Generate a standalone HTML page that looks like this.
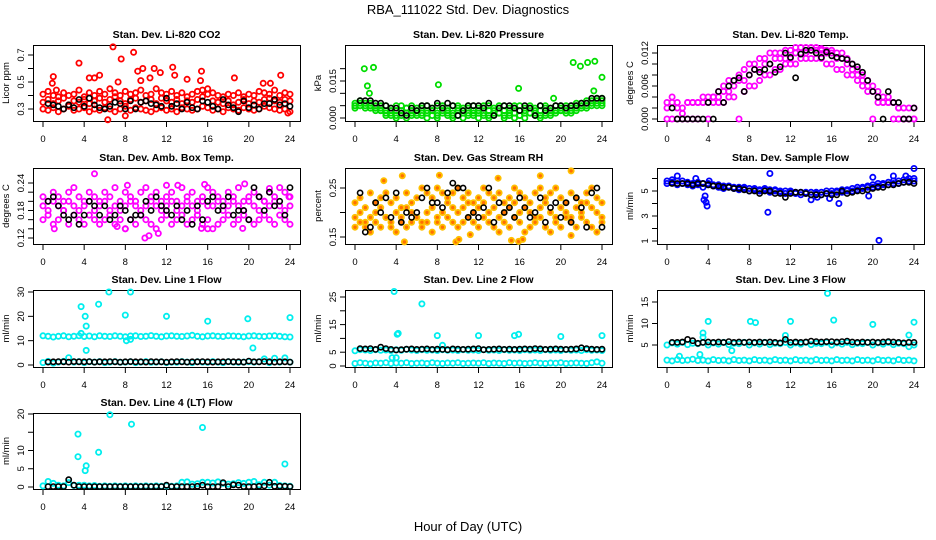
<!DOCTYPE html>
<html><head><meta charset="utf-8">
<style>
html,body{margin:0;padding:0;background:#fff;}
svg{display:block;font-family:"Liberation Sans",sans-serif;}
</style></head>
<body>
<svg id="chart" width="936" height="540" viewBox="0 0 936 540" xmlns="http://www.w3.org/2000/svg">
<rect x="0" y="0" width="936" height="540" fill="#fff"/>
<text x="468" y="14" text-anchor="middle" font-size="13">RBA_111022  Std. Dev. Diagnostics</text>
<text x="468" y="531" text-anchor="middle" font-size="13">Hour of Day (UTC)</text>
</svg>
<script>
const H49=[0,0.5,1,1.5,2,2.5,3,3.5,4,4.5,5,5.5,6,6.5,7,7.5,8,8.5,9,9.5,10,10.5,11,11.5,12,12.5,13,13.5,14,14.5,15,15.5,16,16.5,17,17.5,18,18.5,19,19.5,20,20.5,21,21.5,22,22.5,23,23.5,24];
const H48=[0.5,1,1.5,2,2.5,3,3.5,4,4.5,5,5.5,6,6.5,7,7.5,8,8.5,9,9.5,10,10.5,11,11.5,12,12.5,13,13.5,14,14.5,15,15.5,16,16.5,17,17.5,18,18.5,19,19.5,20,20.5,21,21.5,22,22.5,23,23.5,24];
const xTicks=[0,4,8,12,16,20,24];

// CO2
const co2A=[0.30,0.29,0.31,0.28,0.30,0.32,0.29,0.30,0.31,0.28,0.30,0.29,0.31,0.30,0.28,0.30,0.32,0.29,0.31,0.30,0.29,0.28,0.30,0.31,0.29,0.30,0.28,0.31,0.30,0.29,0.30,0.32,0.31,0.29,0.30,0.28,0.31,0.30,0.29,0.31,0.30,0.29,0.30,0.32,0.31,0.30,0.29,0.30,0.28];
const co2B=[0.35,0.37,0.34,0.36,0.38,0.33,0.36,0.35,0.37,0.34,0.36,0.38,0.35,0.37,0.39,0.36,0.34,0.37,0.38,0.35,0.36,0.37,0.34,0.38,0.36,0.35,0.37,0.34,0.36,0.35,0.37,0.39,0.41,0.36,0.35,0.34,0.36,0.33,0.35,0.37,0.34,0.36,0.35,0.37,0.38,0.36,0.35,0.37,0.36];
const co2C=[0.41,0.43,0.40,0.39,0.42,0.40,0.41,0.44,0.39,0.42,0.40,0.43,0.41,0.45,0.42,0.40,0.43,0.41,0.42,0.44,0.40,0.41,0.45,0.42,0.41,0.43,0.40,0.42,0.39,0.41,0.43,0.44,0.45,0.42,0.40,0.39,0.41,0.40,0.42,0.39,0.41,0.40,0.43,0.42,0.41,0.44,0.40,0.42,0.41];
const co2OutH=[1,0.9,1.3,3.5,4.5,5,5.5,6.3,6.8,7.3,7.6,8,8.8,9.2,9.7,10.8,11.4,12.6,12.8,14.0,15.4,15.3,18.6,21.4,22.1,23.1,23.8,9.5,10.4];
const co2OutV=[0.54,0.49,0.44,0.64,0.53,0.53,0.55,0.22,0.76,0.50,0.67,0.25,0.72,0.58,0.60,0.60,0.57,0.61,0.55,0.52,0.58,0.51,0.53,0.49,0.49,0.55,0.27,0.51,0.53];
const co2Blk=[0.34,0.33,0.32,0.30,0.33,0.31,0.37,0.32,0.38,0.33,0.31,0.30,0.32,0.35,0.34,0.30,0.36,0.30,0.35,0.36,0.34,0.33,0.32,0.38,0.32,0.34,0.30,0.35,0.31,0.30,0.36,0.35,0.32,0.30,0.37,0.33,0.31,0.28,0.36,0.31,0.33,0.30,0.34,0.34,0.37,0.33,0.34,0.32];

// Pressure
const pA=[0.005,0.006,0.006,0.005,0.004,0.003,0.002,0.001,0.000,0.001,0.000,0.001,0.002,0.001,0.000,0.001,0.000,0.002,0.001,0.000,0.001,0.000,0.001,0.002,0.000,0.001,0.000,0.001,0.002,0.000,0.001,0.000,0.001,0.000,0.002,0.001,0.000,0.001,0.002,0.003,0.003,0.002,0.002,0.003,0.004,0.004,0.005,0.005,0.005];
const pB=[0.006,0.007,0.006,0.006,0.005,0.005,0.005,0.004,0.005,0.005,0.004,0.005,0.004,0.005,0.005,0.004,0.005,0.005,0.004,0.005,0.005,0.004,0.005,0.005,0.004,0.005,0.005,0.004,0.005,0.005,0.004,0.005,0.005,0.004,0.005,0.004,0.005,0.005,0.004,0.005,0.005,0.005,0.005,0.006,0.006,0.007,0.007,0.008,0.008];
const pC=[0.004,0.005,0.004,0.004,0.003,0.003,0.003,0.002,0.003,0.003,0.002,0.003,0.003,0.002,0.003,0.003,0.002,0.003,0.003,0.002,0.003,0.003,0.002,0.003,0.003,0.002,0.003,0.003,0.002,0.003,0.003,0.002,0.003,0.003,0.002,0.003,0.003,0.002,0.003,0.003,0.003,0.003,0.004,0.004,0.005,0.005,0.006,0.006,0.006];
const pD=[0.005,0.005,0.005,0.005,0.004,0.004,0.001,0.003,0.001,0.002,0.004,0.002,0.001,0.004,0.002,0.003,0.001,0.004,0.002,0.001,0.004,0.002,0.004,0.001,0.002,0.004,0.001,0.002,0.004,0.001,0.002,0.004,0.001,0.002,0.004,0.002,0.001,0.004,0.001,0.002,0.004,0.004,0.003,0.005,0.005,0.006,0.006,0.007,0.007];
const pOutH=[0.9,1.8,1.2,1.4,8.1,15.9,19.3,21.2,21.9,22.6,23.3,24,23.2];
const pOutV=[0.020,0.0205,0.013,0.010,0.0135,0.012,0.008,0.0225,0.021,0.0225,0.023,0.0165,0.011];
const pBlk=[0.007,0.007,0.007,0.006,0.006,0.005,0.004,0.004,0.002,0.001,0.004,0.003,0.005,0.005,0.004,0.006,0.004,0.006,0.005,0.001,0.003,0.005,0.005,0.005,0.004,0.006,0.001,0.004,0.005,0.005,0.004,0.003,0.005,0.004,0.001,0.005,0.003,0.004,0.005,0.005,0.004,0.005,0.005,0.006,0.006,0.008,0.008,0.008];

// Li-820 Temp
const tA=[0.002,0.003,0.002,0.002,0.003,0.003,0.003,0.003,0.003,0.004,0.004,0.005,0.005,0.006,0.007,0.007,0.008,0.009,0.009,0.010,0.010,0.011,0.011,0.011,0.011,0.012,0.012,0.012,0.0125,0.0125,0.0125,0.012,0.012,0.011,0.011,0.010,0.009,0.008,0.007,0.006,0.005,0.004,0.003,0.003,0.003,0.002,0.002,0.002,0.002];
const tB=[0,0,0,0,0.003,0.003,0.003,0.003,0,0.003,0.003,0.003,0.004,0.004,0,0.005,0.006,0.006,0.007,0.008,0.008,0.009,0.009,0.010,0.010,0.010,0.011,0.011,0.011,0.011,0.011,0.010,0.010,0.009,0.009,0.008,0.008,0.007,0.006,0.005,0,0.003,0.003,0.003,0,0,0,0,0];
const tC=[0.003,0.004,0.003,0.001,0,0,0,0.004,0.004,0.004,0.005,0.006,0.007,0.007,0.008,0.009,0.010,0.010,0.011,0.011,0.012,0.012,0.012,0.0125,0.0125,0.013,0.013,0.013,0.013,0.013,0.0128,0.0125,0.0125,0.012,0.012,0.011,0.010,0.009,0.008,0.007,0.006,0.005,0.004,0.004,0.003,0.002,0,0,0];
const tBlk=[0.002,0,0,0,0,0,0,0.003,0,0.005,0.003,0.006,0.007,0.0075,0.005,0.008,0.009,0.0085,0.009,0.010,0.0085,0.0095,0.012,0.0112,0.0075,0.0118,0.0125,0.0125,0.012,0.0112,0.0122,0.0115,0.0112,0.011,0.0108,0.01,0.0095,0.0085,0.007,0.005,0.004,0,0.005,0.003,0.003,0,0,0.002];

// Amb box temp
const aA=[0.16,0.17,0.15,0.16,0.18,0.15,0.17,0.16,0.15,0.17,0.16,0.15,0.16,0.17,0.15,0.16,0.14,0.16,0.15,0.17,0.16,0.15,0.14,0.16,0.17,0.15,0.16,0.17,0.15,0.16,0.17,0.15,0.16,0.14,0.15,0.16,0.17,0.15,0.16,0.17,0.16,0.15,0.16,0.17,0.16,0.15,0.17,0.16,0.15];
const aB=[0.19,0.18,0.20,0.19,0.18,0.20,0.19,0.18,0.19,0.20,0.18,0.19,0.20,0.18,0.19,0.18,0.19,0.20,0.19,0.18,0.19,0.20,0.19,0.18,0.19,0.20,0.18,0.19,0.20,0.19,0.18,0.20,0.19,0.19,0.20,0.18,0.19,0.20,0.19,0.18,0.20,0.19,0.18,0.20,0.19,0.20,0.19,0.18,0.19];
const aC=[0.21,0.20,0.22,0.21,0.20,0.22,0.23,0.21,0.20,0.22,0.21,0.20,0.22,0.21,0.23,0.20,0.22,0.21,0.20,0.22,0.23,0.21,0.22,0.20,0.21,0.22,0.20,0.23,0.21,0.22,0.20,0.21,0.23,0.22,0.21,0.20,0.22,0.21,0.23,0.20,0.21,0.22,0.21,0.20,0.22,0.21,0.23,0.22,0.21];
const aOutH=[5,8.2,9.9,10.3,8.0,7.2,12.0,13.1,15.7,19.6,22.0,16.0,15.4,19.4,1.1,11.2,23.9];
const aOutV=[0.26,0.235,0.12,0.125,0.14,0.145,0.235,0.235,0.237,0.238,0.228,0.14,0.141,0.141,0.14,0.13,0.21];
const aBlk=[0.20,0.21,0.19,0.17,0.16,0.17,0.15,0.17,0.20,0.19,0.17,0.19,0.16,0.17,0.19,0.18,0.16,0.17,0.17,0.20,0.18,0.21,0.19,0.18,0.17,0.19,0.16,0.18,0.15,0.19,0.16,0.20,0.21,0.18,0.19,0.21,0.17,0.18,0.18,0.16,0.23,0.21,0.18,0.22,0.19,0.20,0.17,0.23];

// Gas stream RH
const rA=[0.19,0.20,0.18,0.19,0.20,0.21,0.19,0.18,0.20,0.19,0.21,0.20,0.19,0.18,0.20,0.21,0.19,0.20,0.22,0.21,0.20,0.21,0.22,0.20,0.21,0.22,0.20,0.21,0.19,0.20,0.21,0.22,0.20,0.21,0.20,0.19,0.21,0.22,0.20,0.19,0.21,0.20,0.19,0.21,0.20,0.22,0.21,0.20,0.19];
const rB=[0.22,0.23,0.21,0.24,0.22,0.23,0.24,0.22,0.23,0.21,0.24,0.22,0.23,0.25,0.24,0.23,0.25,0.24,0.23,0.24,0.25,0.23,0.24,0.22,0.23,0.25,0.24,0.23,0.24,0.22,0.23,0.25,0.24,0.23,0.22,0.24,0.25,0.23,0.24,0.25,0.23,0.22,0.24,0.23,0.22,0.24,0.25,0.23,0.22];
const rC=[0.17,0.18,0.17,0.16,0.18,0.17,0.19,0.17,0.16,0.18,0.17,0.18,0.19,0.17,0.18,0.16,0.18,0.17,0.19,0.18,0.17,0.18,0.19,0.18,0.17,0.19,0.18,0.17,0.16,0.18,0.17,0.19,0.18,0.16,0.17,0.18,0.19,0.17,0.16,0.18,0.17,0.19,0.18,0.17,0.19,0.18,0.17,0.16,0.18];
const rOutH=[4.8,9.8,10.1,15.2,15.9,16.3,8.2,4.6,2.8,21,18,21,11.2,13.9];
const rOutV=[0.14,0.14,0.145,0.143,0.141,0.145,0.276,0.275,0.265,0.285,0.275,0.153,0.155,0.27];
const rBlk=[0.24,0.16,0.17,0.22,0.20,0.23,0.19,0.24,0.18,0.20,0.19,0.20,0.23,0.25,0.22,0.22,0.21,0.24,0.26,0.25,0.25,0.19,0.20,0.19,0.21,0.25,0.18,0.22,0.20,0.21,0.19,0.23,0.21,0.19,0.20,0.23,0.18,0.21,0.22,0.19,0.22,0.18,0.23,0.21,0.17,0.24,0.25,0.17];

// Sample flow
const sA=[5.6,5.7,5.5,5.6,5.5,5.4,5.5,5.3,5.5,5.4,5.3,5.2,5.3,5.2,5.1,5.2,5.0,5.1,5.0,5.1,4.9,5.0,4.9,4.8,4.9,4.8,4.7,4.8,4.7,4.8,4.7,4.8,4.8,4.9,4.9,5.0,5.0,5.1,5.2,5.3,5.3,5.4,5.5,5.5,5.6,5.6,5.7,5.8,5.8];
const sB=[5.8,5.9,5.8,5.8,5.7,5.6,5.7,5.6,5.6,5.5,5.5,5.4,5.4,5.3,5.3,5.3,5.2,5.2,5.1,5.2,5.1,5.1,5.0,5.0,5.0,4.9,4.9,4.9,4.9,4.9,4.9,5.0,5.0,5.0,5.1,5.1,5.2,5.3,5.3,5.4,5.5,5.6,5.6,5.7,5.8,5.8,5.9,6.0,6.0];
const sOutH=[1,3.7,3.8,3.9,3.6,10,14,14.6,16.7,15.8,9.8,19.6,20.0,20.6,22,23.2,24,5.2,4.1,2.8];
const sOutV=[6.2,4.6,4.1,3.8,4.3,6.4,4.3,4.5,4.0,4.4,3.3,4.6,6.1,1.05,6.2,6.2,6.8,5.3,5.8,6.0];
const sBlk=[5.6,5.6,5.6,5.6,5.5,5.6,5.6,5.5,5.4,5.4,5.3,5.3,5.2,5.2,5.1,5.0,5.0,4.8,5.0,5.0,4.8,4.8,4.5,4.8,4.9,4.9,4.8,4.7,4.7,4.7,4.8,4.7,4.7,5.0,4.8,4.9,5.0,5.0,5.1,5.2,5.3,5.3,5.5,5.5,5.6,5.7,5.7,5.6];

// Line 1
const l1A=[12.0,11.8,11.5,11.8,12.0,11.6,11.8,12.0,11.7,11.9,11.6,12.0,11.8,11.7,12.0,11.8,11.6,11.9,12.0,11.7,11.8,12.1,11.8,11.6,11.9,12.0,11.8,11.7,11.9,12.2,11.8,11.6,11.9,12.0,11.8,11.7,12.0,11.9,11.8,11.6,11.9,12.0,11.8,11.7,11.9,12.0,11.8,11.6,11.5];
const l1B=[1.0,1.5,0.8,1.2,1.5,3.0,1.2,1.4,1.0,1.3,1.2,1.4,1.0,1.2,1.4,1.1,1.2,1.3,1.0,1.2,1.4,1.1,1.2,1.3,1.0,1.2,1.1,1.4,1.2,1.0,1.3,1.2,1.1,1.4,1.2,1.0,1.3,1.2,1.1,1.2,1.4,1.2,1.3,2.5,1.0,2.8,1.2,2.9,1.2];
const l1OutH=[3.7,4.1,4.2,4.2,5.4,6.4,8.5,8,12,16,19.9,20.4,24,3.7,8.5,8.1];
const l1OutV=[24,20,16,6,25,30,30,20.5,20,18,19,7,19.5,13,10.5,10];
const l1Blk=[1.2,1.3,1.4,1.3,1.2,1.4,1.3,1.3,1.4,1.2,1.3,1.3,1.4,1.3,1.2,1.3,1.4,1.3,1.3,1.2,1.4,1.3,1.3,1.2,1.3,1.4,1.3,1.2,1.3,1.3,1.4,1.3,1.2,1.3,1.3,1.4,1.3,1.3,1.2,1.6,1.3,1.3,1.4,1.3,1.2,1.3,1.3,1.2];

// Line 2
const l2A=[5.5,5.9,5.8,5.6,5.9,5.7,5.8,5.6,5.9,5.7,6.0,5.8,5.6,5.9,5.7,5.8,5.6,5.9,5.7,5.8,5.6,5.9,5.7,5.8,5.6,5.9,5.7,5.8,5.6,5.9,5.7,5.8,5.6,5.9,5.7,5.8,5.6,5.9,5.7,5.8,5.6,5.9,5.7,5.8,5.6,5.9,5.7,5.8,5.6];
const l2B=[0.9,1.2,1.0,0.8,1.1,1.0,1.2,0.9,1.1,1.0,1.2,0.9,1.0,1.1,0.9,1.2,1.0,0.9,1.1,1.0,1.2,0.9,1.0,1.1,1.0,1.2,0.9,1.1,1.0,0.9,1.2,1.0,1.1,0.9,1.0,1.2,1.0,0.9,1.1,1.0,1.2,0.9,1.0,1.1,1.0,0.9,1.2,1.5,1.0];
const l2OutH=[3.8,6.5,4.1,4.2,8,12,15.5,15.9,20,24,3.6,4.0,8.5];
const l2OutV=[27,22.5,11.5,11.8,11,11,11,11.5,10.7,11,3,3,7.5];
const l2Blk=[6.3,6.2,6.3,6.0,6.8,6.3,6.0,5.8,5.9,6.1,6.2,6.0,6.1,6.2,6.0,6.1,6.0,5.9,6.2,6.1,6.0,6.1,6.2,6.3,5.9,6.0,6.1,6.2,6.0,6.1,6.0,6.1,6.2,6.1,6.3,6.2,6.0,6.1,6.2,6.1,6.0,6.1,6.2,6.6,6.3,6.1,6.0,6.1];

// Line 3
const l3A=[5.0,5.5,5.2,5.6,5.1,5.4,5.3,5.6,5.0,5.5,5.2,5.6,5.1,5.4,5.3,5.6,5.0,5.5,5.2,5.6,5.1,5.4,5.3,5.6,5.0,5.5,5.2,5.6,5.1,5.4,5.3,5.6,5.0,5.5,5.2,5.6,5.1,5.4,5.3,5.6,5.0,5.5,5.2,5.6,5.1,5.4,5.3,4.6,5.0];
const l3B=[1.5,1.3,1.6,1.4,1.5,1.7,1.4,1.5,1.3,1.6,1.4,1.5,1.3,1.6,1.4,1.5,1.3,1.6,1.4,1.5,1.3,1.6,1.4,1.5,1.3,1.6,1.4,1.5,1.3,1.6,1.4,1.5,1.3,1.6,1.4,1.5,1.3,1.6,1.4,1.5,1.3,1.6,1.4,1.5,1.3,1.6,1.4,1.5,1.3];
const l3OutH=[15.6,4,8.1,8.6,12,16.2,20,24,3.5,3.5,6.3,1.2,3.2,23.5,11.5];
const l3OutV=[17,10.5,10.5,10.2,10.5,10.8,9.8,10.3,7.8,6.8,3.7,2.4,2.8,7.3,7.2];
const l3Blk=[5.6,5.6,5.7,6.3,6.0,5.4,5.6,5.7,5.6,5.7,5.6,5.8,5.6,5.7,5.6,5.7,5.6,5.7,5.6,5.7,5.6,5.5,6.3,5.6,5.7,5.6,5.7,5.9,5.8,5.7,5.8,5.8,5.7,5.8,5.9,5.7,5.6,5.7,5.6,5.7,5.6,5.7,5.8,5.7,5.6,5.5,5.6,5.6];

// Line 4
const l4A=[0.3,1.5,1.0,0.5,0.3,1.2,0.4,0.5,0.5,0.3,0.4,0.2,0.3,0.2,0.3,0.2,0.3,0.2,0.3,0.2,0.3,0.2,0.3,0.2,0.3,0.2,0.3,1.3,1.4,0.8,0.9,1.3,1.3,1.1,1.4,1.0,0.8,0.9,1.2,1.0,1.3,1.5,0.6,1.3,0.5,1.3,0.4,0.3,0.2];
const l4OutH=[3.4,3.4,4.2,4.1,5.4,6.5,8.6,15.5,23.5];
const l4OutV=[14.5,8.3,5.8,4.5,9.5,19.8,17.2,16.3,6.3];
const l4Blk=[0.1,0.1,0.1,0.1,2.0,0.5,0.1,0.1,0.1,0.1,0.1,0.1,0.1,0.1,0.1,0.1,0.1,0.1,0.1,0.1,0.1,0.1,0.1,0.5,0.1,0.1,0.1,0.1,0.1,0.2,0.5,0.1,0.1,0.1,1.2,0.1,0.6,0.5,0.1,0.1,0.1,0.2,0.3,1.3,0.2,0.2,0.2,0.1];

const NS="http://www.w3.org/2000/svg";
const svg=document.getElementById('chart');
function mk(tag,attrs,parent){const e=document.createElementNS(NS,tag);for(const k in attrs)e.setAttribute(k,attrs[k]);(parent||svg).appendChild(e);return e;}

const colLeft=[33,345,657];
const rowTop=[45,168,290,413];
const rowBot=[121,244,367,489];

function panel(cfg){
  const left=colLeft[cfg.col], top=rowTop[cfg.row], bot=rowBot[cfg.row], right=left+267;
  const g=mk('g',{});
  
  
  const xs=h=>left+10+h*(247/24);
  const ys=v=>cfg.py1+(v-cfg.v1)*(cfg.py2-cfg.py1)/(cfg.v2-cfg.v1);
  const t=mk('text',{x:(left+right)/2,y:top-7,'text-anchor':'middle','font-size':'10.5','font-weight':'bold'},g);
  t.textContent=cfg.title;
  
  
  const box=mk('rect',{x:left+0.5,y:top+0.5,width:267,height:bot-top,fill:'none',stroke:'#000','stroke-width':1},g);
  
  
  xTicks.forEach(h=>{
    const x=xs(h);
    mk('line',{x1:x,y1:bot+1,x2:x,y2:bot+6,stroke:'#000'},g);
    const lt=mk('text',{x:x,y:bot+21,'text-anchor':'middle','font-size':'9.5'},g);
    lt.textContent=String(h);
    
    
  });
  cfg.yt.forEach((v,i)=>{
    const y=ys(v);
    mk('line',{x1:left,y1:y,x2:left-5,y2:y,stroke:'#000'},g);
    const lab=cfg.ytl[i];
    if(lab){
      const lt=mk('text',{x:left-9,y:y,'text-anchor':'middle','font-size':'9.5',transform:`rotate(-90 ${left-9} ${y})`},g);
      lt.textContent=lab;
      
      
    }
  });
  const yc=(top+bot)/2;
  const yt=mk('text',{x:left-24,y:yc,'text-anchor':'middle','font-size':'9.5',transform:`rotate(-90 ${left-24} ${yc})`},g);
  yt.textContent=cfg.ylab;
  
  
  function pts(hs,vs,color,fill,sw,name){
    const sg=mk('g',{},g);
    
    
    vs.forEach((v,i)=>{
      const c=mk('circle',{cx:xs(hs[i]).toFixed(1),cy:ys(v).toFixed(1),r:2.6,fill:fill||'none',stroke:color,'stroke-width':sw},sg);
      
      
    });
  }
  cfg.color.forEach(s=>pts(s[0],s[1],cfg.c,cfg.fill,1.8,'color-series'));
  pts(H48,cfg.blk,'#000',null,1.6,'black-series');
}

panel({name:'panel-co2',col:0,row:0,title:'Stan. Dev. Li-820 CO2',ylab:'Licor ppm',v1:0.3,py1:109,v2:0.7,py2:55,
  yt:[0.3,0.4,0.5,0.6,0.7],ytl:['0.3','','0.5','','0.7'],c:'#ff0000',
  color:[[H49,co2A],[H49,co2B],[H49,co2C],[co2OutH,co2OutV]],blk:co2Blk});
panel({name:'panel-pressure',col:1,row:0,title:'Stan. Dev. Li-820 Pressure',ylab:'kPa',v1:0,py1:118,v2:0.015,py2:81,
  yt:[0,0.005,0.01,0.015,0.02],ytl:['0.000','','','0.015',''],c:'#00dd00',
  color:[[H49,pA],[H49,pB],[H49,pC],[H49,pD],[pOutH,pOutV]],blk:pBlk});
panel({name:'panel-temp',col:2,row:0,title:'Stan. Dev. Li-820 Temp.',ylab:'degrees C',v1:0,py1:119,v2:0.012,py2:53,
  yt:[0,0.002,0.004,0.006,0.008,0.010,0.012],ytl:['0.000','','','0.006','','','0.012'],c:'#ff00ff',
  color:[[H49,tA],[H49,tB],[H49,tC]],blk:tBlk});
panel({name:'panel-amb-temp',col:0,row:1,title:'Stan. Dev. Amb. Box Temp.',ylab:'degrees C',v1:0.12,py1:238,v2:0.24,py2:183,
  yt:[0.12,0.14,0.16,0.18,0.20,0.22,0.24],ytl:['0.12','','','0.18','','','0.24'],c:'#ff00ff',
  color:[[H49,aA],[H49,aB],[H49,aC],[aOutH,aOutV]],blk:aBlk});
panel({name:'panel-rh',col:1,row:1,title:'Stan. Dev. Gas Stream RH',ylab:'percent',v1:0.15,py1:237,v2:0.25,py2:188,
  yt:[0.15,0.20,0.25],ytl:['0.15','','0.25'],c:'#ffc000',fill:'#ff7000',
  color:[[H49,rA],[H49,rB],[H49,rC],[rOutH,rOutV]],blk:rBlk});
panel({name:'panel-sample-flow',col:2,row:1,title:'Stan. Dev. Sample Flow',ylab:'ml/min',v1:1,py1:241,v2:5,py2:191,
  yt:[1,2,3,4,5,6],ytl:['1','','3','','5',''],c:'#0000ff',
  color:[[H49,sA],[H49,sB],[sOutH,sOutV]],blk:sBlk});
panel({name:'panel-line1',col:0,row:2,title:'Stan. Dev. Line 1 Flow',ylab:'ml/min',v1:0,py1:365,v2:30,py2:292,
  yt:[0,10,20,30],ytl:['0','10','20','30'],c:'#00eeee',
  color:[[H49,l1A],[H49,l1B],[l1OutH,l1OutV]],blk:l1Blk});
panel({name:'panel-line2',col:1,row:2,title:'Stan. Dev. Line 2 Flow',ylab:'ml/min',v1:0,py1:366,v2:25,py2:297,
  yt:[0,5,10,15,20,25],ytl:['0','5','','15','','25'],c:'#00eeee',
  color:[[H49,l2A],[H49,l2B],[l2OutH,l2OutV]],blk:l2Blk});
panel({name:'panel-line3',col:2,row:2,title:'Stan. Dev. Line 3 Flow',ylab:'ml/min',v1:5,py1:345,v2:15,py2:302,
  yt:[5,10,15],ytl:['5','10','15'],c:'#00eeee',
  color:[[H49,l3A],[H49,l3B],[l3OutH,l3OutV]],blk:l3Blk});
panel({name:'panel-line4',col:0,row:3,title:'Stan. Dev. Line 4 (LT) Flow',ylab:'ml/min',v1:0,py1:487,v2:20,py2:414,
  yt:[0,5,10,15,20],ytl:['0','5','10','','20'],c:'#00eeee',
  color:[[H49,l4A],[l4OutH,l4OutV]],blk:l4Blk});
</script>
</body></html>
